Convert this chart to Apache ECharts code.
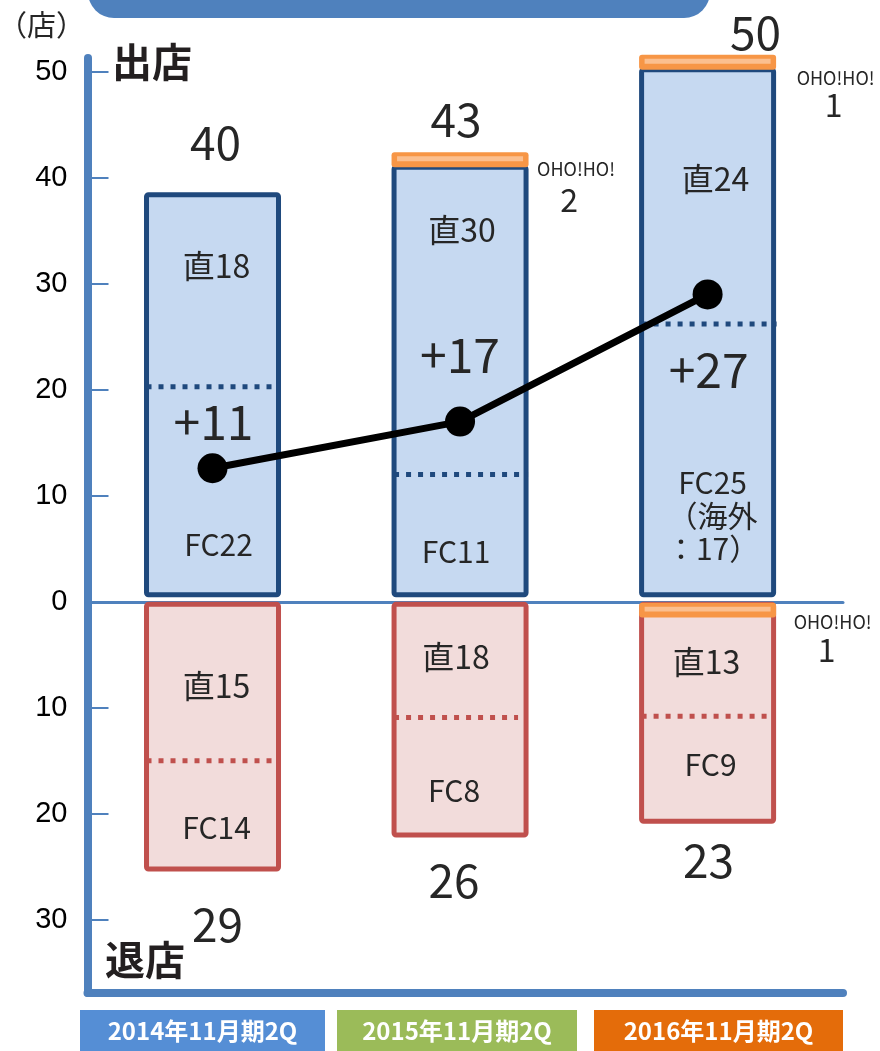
<!DOCTYPE html>
<html><head><meta charset="utf-8">
<script src="https://cdn.jsdelivr.net/npm/echarts@6/dist/echarts.min.js"></script>
<style>html,body{margin:0;padding:0;background:#fff}#c{width:880px;height:1051px}</style>
</head><body><div id="c"></div>
<script>
// ---- data ----
const categories = ['2014年11月期2Q', '2015年11月期2Q', '2016年11月期2Q'];
const outFC = [20.3, 12.0, 26.2];
const outDirect = [18.1, 29.0, 24.0];
const outOho = [0, 1.4, 1.4];
const retOho = [0, 0, 1.3];
const retDirect = [15.0, 10.9, 9.5];
const retFC = [10.2, 11.1, 9.9];
const netLine = [12.6, 17.0, 29.0];
const outTotalLabels = ['40', '43', '50'];
const outDirectLabels = ['直18', '直30', '直24'];
const outFCLabels = ['FC22', 'FC11', 'FC25\n（海外\n：17）'];
const netLabels = ['+11', '+17', '+27'];
const outOhoCounts = ['', '2', '1'];
const retTotalLabels = ['29', '26', '23'];
const retDirectLabels = ['直15', '直18', '直13'];
const retFCLabels = ['FC14', 'FC8', 'FC9'];
const retOhoCounts = ['', '', '1'];
const yTicks = [-30, -20, -10, 0, 10, 20, 30, 40, 50];

// ---- layout / style ----
const FONT = "'Noto Sans CJK JP', 'Noto Sans', sans-serif";
const TXT = '#262626';
const BAR_W = 132;
const OUT_LAYOUT = [
  {dir:[4,-25], net:[1,35], fc:[6,50], total:[3,-52], divExt:-3, oho:null},
  {dir:[2,-91], net:[0,-120], fc:[-4,13], total:[-4,-33], divExt:2, oho:[[116,17],[109,47]]},
  {dir:[8,-18], net:[1,46], fc:[5,53], total:[48,-22], divExt:3, oho:[[128,23],[126,50]]}
];
const RET_LAYOUT = [
  {dir:[4,5], fc:[4,13], total:[5,56], divExt:-5, oho:null},
  {dir:[-4,-3], fc:[-6,14], total:[-6,45], divExt:-8, oho:null},
  {dir:[-1,-4], fc:[3,-4], total:[1,39], divExt:-4, oho:[[125,20],[119,48]]}
];

function txt(x, y, text, size, extra) {
  return Object.assign({type:'text', x:x, y:y, z2:20, style:Object.assign({
    text:text, fill:TXT, fontSize:size, fontFamily:FONT,
    align:'center', verticalAlign:'middle', textAlign:'center', textVerticalAlign:'middle'
  }, extra || {})});
}
function cap(left, top, h) {
  return [
    {type:'rect', z2:10, shape:{x:left-2.5, y:top, width:BAR_W+5, height:h, r:3}, style:{fill:'#f79646'}},
    {type:'rect', z2:11, shape:{x:left+3, y:top+4, width:BAR_W-6, height:Math.max(3,h-10)}, style:{fill:'#fbbf8f'}}
  ];
}

function renderOut(params, api) {
  const i = params.dataIndex;
  const x = api.value(0), fc = api.value(1), dir = api.value(2), oho = api.value(3);
  const p0 = api.coord([x, 0]), pDiv = api.coord([x, fc]);
  const pTop = api.coord([x, fc + dir]), pCap = api.coord([x, fc + dir + oho]);
  const cx = p0[0], left = cx - BAR_W / 2, L = OUT_LAYOUT[i];
  const ch = [];
  ch.push({type:'rect', z2:1, shape:{x:left, y:pTop[1], width:BAR_W, height:p0[1] - 7 - pTop[1], r:2},
    style:{fill:'#c6d9f1', stroke:'#1f497d', lineWidth:5}});
  ch.push({type:'line', z2:2, shape:{x1:left, y1:pDiv[1], x2:left + BAR_W + L.divExt, y2:pDiv[1]},
    style:{stroke:'#1f497d', lineWidth:5, lineDash:[5,7]}});
  if (oho > 0) cap(left, pCap[1], pTop[1] - pCap[1]).forEach(e => ch.push(e));
  const midDir = (pDiv[1] + pTop[1]) / 2, midFc = (p0[1] + pDiv[1]) / 2;
  ch.push(txt(cx + L.dir[0], midDir + L.dir[1], outDirectLabels[i], 32));
  ch.push(txt(cx + L.net[0], pDiv[1] + L.net[1], netLabels[i], 48));
  ch.push(txt(cx + L.fc[0], midFc + L.fc[1], outFCLabels[i], 30, {lineHeight:33}));
  ch.push(txt(cx + L.total[0], pCap[1] + L.total[1], outTotalLabels[i], 46));
  if (L.oho) {
    ch.push(txt(cx + L.oho[0][0], pCap[1] + L.oho[0][1], 'OHO!HO!', 18));
    ch.push(txt(cx + L.oho[1][0], pCap[1] + L.oho[1][1], outOhoCounts[i], 32));
  }
  return {type:'group', children:ch};
}

function renderRet(params, api) {
  const i = params.dataIndex;
  const x = api.value(0), oho = api.value(1), dir = api.value(2), fc = api.value(3);
  const p0 = api.coord([x, 0]), pCap = api.coord([x, -oho]);
  const pDiv = api.coord([x, -(oho + dir)]), pBot = api.coord([x, -(oho + dir + fc)]);
  const cx = p0[0], left = cx - BAR_W / 2, L = RET_LAYOUT[i];
  const ch = [];
  ch.push({type:'rect', z2:1, shape:{x:left, y:p0[1] + 2.5, width:BAR_W, height:pBot[1] - p0[1] - 2.5, r:2},
    style:{fill:'#f2dcdb', stroke:'#c0504d', lineWidth:5}});
  ch.push({type:'line', z2:2, shape:{x1:left, y1:pDiv[1], x2:left + BAR_W + L.divExt, y2:pDiv[1]},
    style:{stroke:'#c0504d', lineWidth:5, lineDash:[5,7]}});
  if (oho > 0) cap(left, p0[1] + 1, pCap[1] - p0[1] + 1).forEach(e => ch.push(e));
  const midDir = (pCap[1] + pDiv[1]) / 2, midFc = (pDiv[1] + pBot[1]) / 2;
  ch.push(txt(cx + L.dir[0], midDir + L.dir[1], retDirectLabels[i], 32));
  ch.push(txt(cx + L.fc[0], midFc + L.fc[1], retFCLabels[i], 30));
  ch.push(txt(cx + L.total[0], pBot[1] + L.total[1], retTotalLabels[i], 46));
  if (L.oho) {
    ch.push(txt(cx + L.oho[0][0], p0[1] + L.oho[0][1], 'OHO!HO!', 18));
    ch.push(txt(cx + L.oho[1][0], p0[1] + L.oho[1][1], retOhoCounts[i], 32));
  }
  return {type:'group', children:ch};
}

const chart = echarts.init(document.getElementById('c'), null, {renderer:'canvas'});
const X_MIN = -0.505, X_MAX = 2.547;
const boxColors = ['#558ed5', '#9bbb59', '#e46c0a'];
const boxes = [[80,245],[337,240],[594,249]];
const graphics = [
  {type:'rect', shape:{x:88, y:-40, width:622, height:58, r:26}, style:{fill:'#4f81bd'}},
  {type:'text', x:-2, y:25, style:{text:'（店）', fill:TXT, fontSize:29, fontFamily:FONT, verticalAlign:'middle', textVerticalAlign:'middle'}},
  {type:'text', x:152, y:62, style:{text:'出店', fill:'#231f20', fontSize:40, fontWeight:'bold', fontFamily:FONT, align:'center', verticalAlign:'middle', textAlign:'center', textVerticalAlign:'middle'}},
  {type:'text', x:145, y:960, style:{text:'退店', fill:'#231f20', fontSize:40, fontWeight:'bold', fontFamily:FONT, align:'center', verticalAlign:'middle', textAlign:'center', textVerticalAlign:'middle'}}
];
categories.forEach((c, i) => {
  graphics.push({type:'rect', shape:{x:boxes[i][0], y:1010, width:boxes[i][1], height:41}, style:{fill:boxColors[i]}});
  graphics.push({type:'text', x:boxes[i][0] + boxes[i][1] / 2, y:1031, style:{text:c, fill:'#fff', fontSize:24, fontWeight:'bold', fontFamily:FONT, align:'center', verticalAlign:'middle', textAlign:'center', textVerticalAlign:'middle'}});
});

chart.setOption({
  animation:false,
  backgroundColor:'#fff',
  grid:{left:87.5, right:37, top:58, bottom:58, containLabel:false, outerBoundsMode:'none'},
  xAxis:[
    {type:'value', min:X_MIN, max:X_MAX, position:'bottom',
     axisLine:{show:true, onZero:false, lineStyle:{color:'#4f81bd', width:8}},
     axisTick:{show:false}, axisLabel:{show:false}, splitLine:{show:false}},
    {type:'value', min:X_MIN, max:X_MAX, position:'bottom', gridIndex:0,
     axisLine:{show:true, onZero:true, lineStyle:{color:'#4f81bd', width:3}},
     axisTick:{show:false}, axisLabel:{show:false}, splitLine:{show:false}}
  ],
  yAxis:{type:'value', min:-36.9, max:51.3,
    axisLine:{show:true, onZero:false, lineStyle:{color:'#4f81bd', width:8}},
    axisTick:{show:true, inside:true, length:21, customValues:yTicks, lineStyle:{color:'#4f81bd', width:2}},
    axisLabel:{customValues:yTicks, formatter:v => String(Math.abs(v)), fontSize:29, color:'#000', margin:20, fontFamily:"'Liberation Sans', Arial, sans-serif"},
    splitLine:{show:false}},
  graphic:graphics,
  series:[
    {type:'custom', name:'出店', renderItem:renderOut, clip:false, z:3,
     encode:{x:0, y:[1,2,3]},
     data:categories.map((c, i) => [i, outFC[i], outDirect[i], outOho[i]])},
    {type:'custom', name:'退店', renderItem:renderRet, clip:false, z:3,
     encode:{x:0, y:[1,2,3]},
     data:categories.map((c, i) => [i, retOho[i], retDirect[i], retFC[i]])},
    {type:'line', name:'純増', z:10, data:netLine.map((v, i) => [i, v]),
     lineStyle:{color:'#000', width:7}, itemStyle:{color:'#000'},
     symbol:'circle', symbolSize:30, showSymbol:true}
  ]
});
</script>
</body></html>
